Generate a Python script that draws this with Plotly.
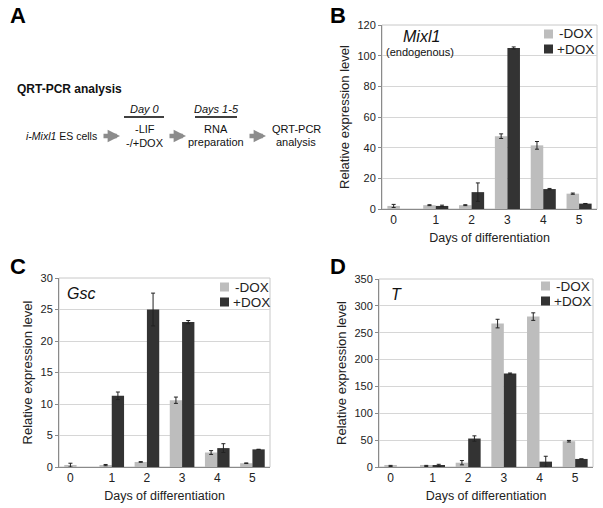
import plotly.graph_objects as go

# ------------------------------------------
# DATA
# ------------------------------------------
DAYS = [0, 1, 2, 3, 4, 5]
TICK_LABELS = ["0", "1", "2", "3", "4", "5"]

# B: Mixl1 (endogenous)
MIXL1_MINUS = [2, 2.5, 2.5, 47.5, 41.5, 10]
MIXL1_MINUS_ERR = [1, 0.3, 0.3, 1.5, 2.5, 0.4]
MIXL1_PLUS = [None, 2, 11, 105, 13, 3.5]
MIXL1_PLUS_ERR = [None, 0.5, 6, 0.7, 0.4, 0.1]

# C: Gsc
GSC_MINUS = [0.3, 0.3, 0.8, 10.6, 2.3, 0.6]
GSC_MINUS_ERR = [0.3, 0.1, 0.05, 0.5, 0.3, 0.05]
GSC_PLUS = [None, 11.3, 25, 23, 3.0, 2.8]
GSC_PLUS_ERR = [None, 0.6, 2.6, 0.25, 0.7, 0]

# D: T
T_MINUS = [2, 2, 8, 267, 280, 48]
T_MINUS_ERR = [1, 1, 4, 8, 7, 1.5]
T_PLUS = [None, 3, 53, 174, 10, 15]
T_PLUS_ERR = [None, 2, 5, 1, 10, 0]

# ------------------------------------------
# STYLE
# ------------------------------------------
FONT = "Liberation Sans, Arial, sans-serif"
GREY = "#bdbdbd"
DARK = "#333333"
AXIS_COL = "#8a8a8a"
GRID_COL = "#d6d6d6"
BARGAP = 0.3

W, H = 603, 508


def px(x):
    return x / W


def py(y):
    return 1 - y / H


# plot area rectangles in pixels + legend anchor (square left, first row centre)
PANELS = {
    "B": dict(x=(382, 597), y=(25, 209), ymax=120, dtick=20, leg=(544, 34)),
    "C": dict(x=(59, 270), y=(278, 467), ymax=30, dtick=5, leg=(220, 287)),
    "D": dict(x=(379, 593), y=(279, 467), ymax=350, dtick=50, leg=(541, 286)),
}

fig = go.Figure()

series = [
    ("B", "", MIXL1_MINUS, MIXL1_MINUS_ERR, MIXL1_PLUS, MIXL1_PLUS_ERR),
    ("C", "2", GSC_MINUS, GSC_MINUS_ERR, GSC_PLUS, GSC_PLUS_ERR),
    ("D", "3", T_MINUS, T_MINUS_ERR, T_PLUS, T_PLUS_ERR),
]

bar_w = (1 - BARGAP) / 2

for key, n, minus, minus_err, plus, plus_err in series:
    for name, vals, errs, col in [("-DOX", minus, minus_err, GREY),
                                   ("+DOX", plus, plus_err, DARK)]:
        fig.add_trace(go.Bar(
            x=DAYS, y=vals, name=name, marker=dict(color=col, line=dict(width=0)),
            error_y=dict(type="data", array=errs, color="#222222", thickness=1, width=2),
            xaxis="x" + n, yaxis="y" + n, offsetgroup=name, showlegend=False,
        ))
    p = PANELS[key]
    # ticks: where only the -DOX bar exists, the label sits under it
    tickvals = [d - bar_w / 2 if v is None else d for d, v in zip(DAYS, plus)]
    fig.update_layout(**{
        "xaxis" + n: dict(
            domain=[px(p["x"][0]), px(p["x"][1])], anchor="y" + n, automargin=False,
            range=[-0.5, 5.5], tickvals=tickvals, ticktext=TICK_LABELS,
            showline=True, linecolor=AXIS_COL, linewidth=1, ticks="",
            showgrid=False, zeroline=False,
            tickfont=dict(size=12, color="#222"),
            title=dict(text="Days of differentiation", font=dict(size=12.5, color="#222"), standoff=6),
        ),
        "yaxis" + n: dict(
            domain=[py(p["y"][1]), py(p["y"][0])], anchor="x" + n, automargin=False,
            range=[0, p["ymax"]], dtick=p["dtick"],
            showline=True, linecolor=AXIS_COL, linewidth=1,
            ticks="outside", ticklen=3, tickcolor=AXIS_COL,
            showgrid=True, gridcolor=GRID_COL, zeroline=False,
            tickfont=dict(size=11, color="#222"),
            title=dict(text="Relative expression level", font=dict(size=13, color="#222"), standoff=4),
        ),
    })
    # light frame around plot area
    fig.add_shape(type="rect", xref="x" + n + " domain", yref="y" + n + " domain",
                  x0=0, x1=1, y0=0, y1=1, line=dict(color="#c8c8c8", width=1), layer="below")
    # legend: small squares with labels
    lx, ly = p["leg"]
    for i, (label, col) in enumerate([("-DOX", GREY), ("+DOX", DARK)]):
        yc = ly + 15 * i
        fig.add_shape(type="rect", xref="paper", yref="paper",
                      x0=px(lx), x1=px(lx + 9), y0=py(yc - 4.5), y1=py(yc + 4.5),
                      fillcolor=col, line=dict(width=0))
        fig.add_annotation(text=label, x=px(lx + 11 + (2 if label == "-DOX" else 0)), y=py(yc),
                           xref="paper", yref="paper", xanchor="left", yanchor="middle",
                           showarrow=False, font=dict(size=13.5, color="#222"))

# panel letters
for letter, x, y in [("A", 8, 16), ("B", 328, 16), ("C", 8, 266), ("D", 328, 266)]:
    fig.add_annotation(text="<b>%s</b>" % letter, x=px(x), y=py(y), xref="paper", yref="paper",
                       xanchor="left", yanchor="middle", showarrow=False,
                       font=dict(size=22, color="black"))

# gene names inside plots
for txt, x, y, size in [("<i>Mixl1</i>", 421, 37, 16), ("(endogenous)", 420, 52, 11),
                        ("<i>Gsc</i>", 81, 293, 16), ("<i>T</i>", 396, 294, 16)]:
    fig.add_annotation(text=txt, x=px(x), y=py(y), xref="paper", yref="paper",
                       xanchor="center", yanchor="middle", showarrow=False,
                       font=dict(size=size, color="#111"))

# ------------------------------------------
# PANEL A: QRT-PCR workflow
# ------------------------------------------
a_texts = [
    ("<b>QRT-PCR analysis</b>", 15, 89, 12, "left"),
    ("<i>Day 0</i>", 145, 109, 11, "center"),
    ("-LIF", 145, 129, 11, "center"),
    ("-/+DOX", 145, 143, 11, "center"),
    ("<i>i-Mixl1</i> ES cells", 24, 136, 10.5, "left"),
    ("<i>Days 1-5</i>", 216, 109, 11, "center"),
    ("RNA", 216, 129, 11, "center"),
    ("preparation", 216, 142, 11, "center"),
    ("QRT-PCR", 296, 129, 11, "center"),
    ("analysis", 296, 142, 11, "center"),
]
for txt, x, y, size, anchor in a_texts:
    fig.add_annotation(text=txt, x=px(x), y=py(y), xref="paper", yref="paper",
                       xanchor=anchor, yanchor="middle", showarrow=False,
                       font=dict(size=size, color="#111"))

for x0, x1 in [(124, 164), (195, 237)]:
    fig.add_shape(type="line", xref="paper", yref="paper", x0=px(x0), x1=px(x1),
                  y0=py(117), y1=py(117), line=dict(color="black", width=1.5))

for xh in [120, 186, 266]:
    fig.add_annotation(x=px(xh), y=py(136), xref="paper", yref="paper", text="",
                       showarrow=True, ax=-18, ay=0, arrowhead=2, arrowsize=0.55,
                       arrowwidth=4.5, arrowcolor="#8c8c8c")

fig.update_layout(
    width=W, height=H, margin=dict(l=0, r=0, t=0, b=0),
    paper_bgcolor="white", plot_bgcolor="white",
    font=dict(family=FONT, color="#222"),
    barmode="group", bargap=BARGAP, bargroupgap=0,
)

# page body has a default 8px margin; drop it so the figure fills the window
fig.write_html("out.html", config={"displayModeBar": False},
               post_script="document.body.style.margin='0px';")
